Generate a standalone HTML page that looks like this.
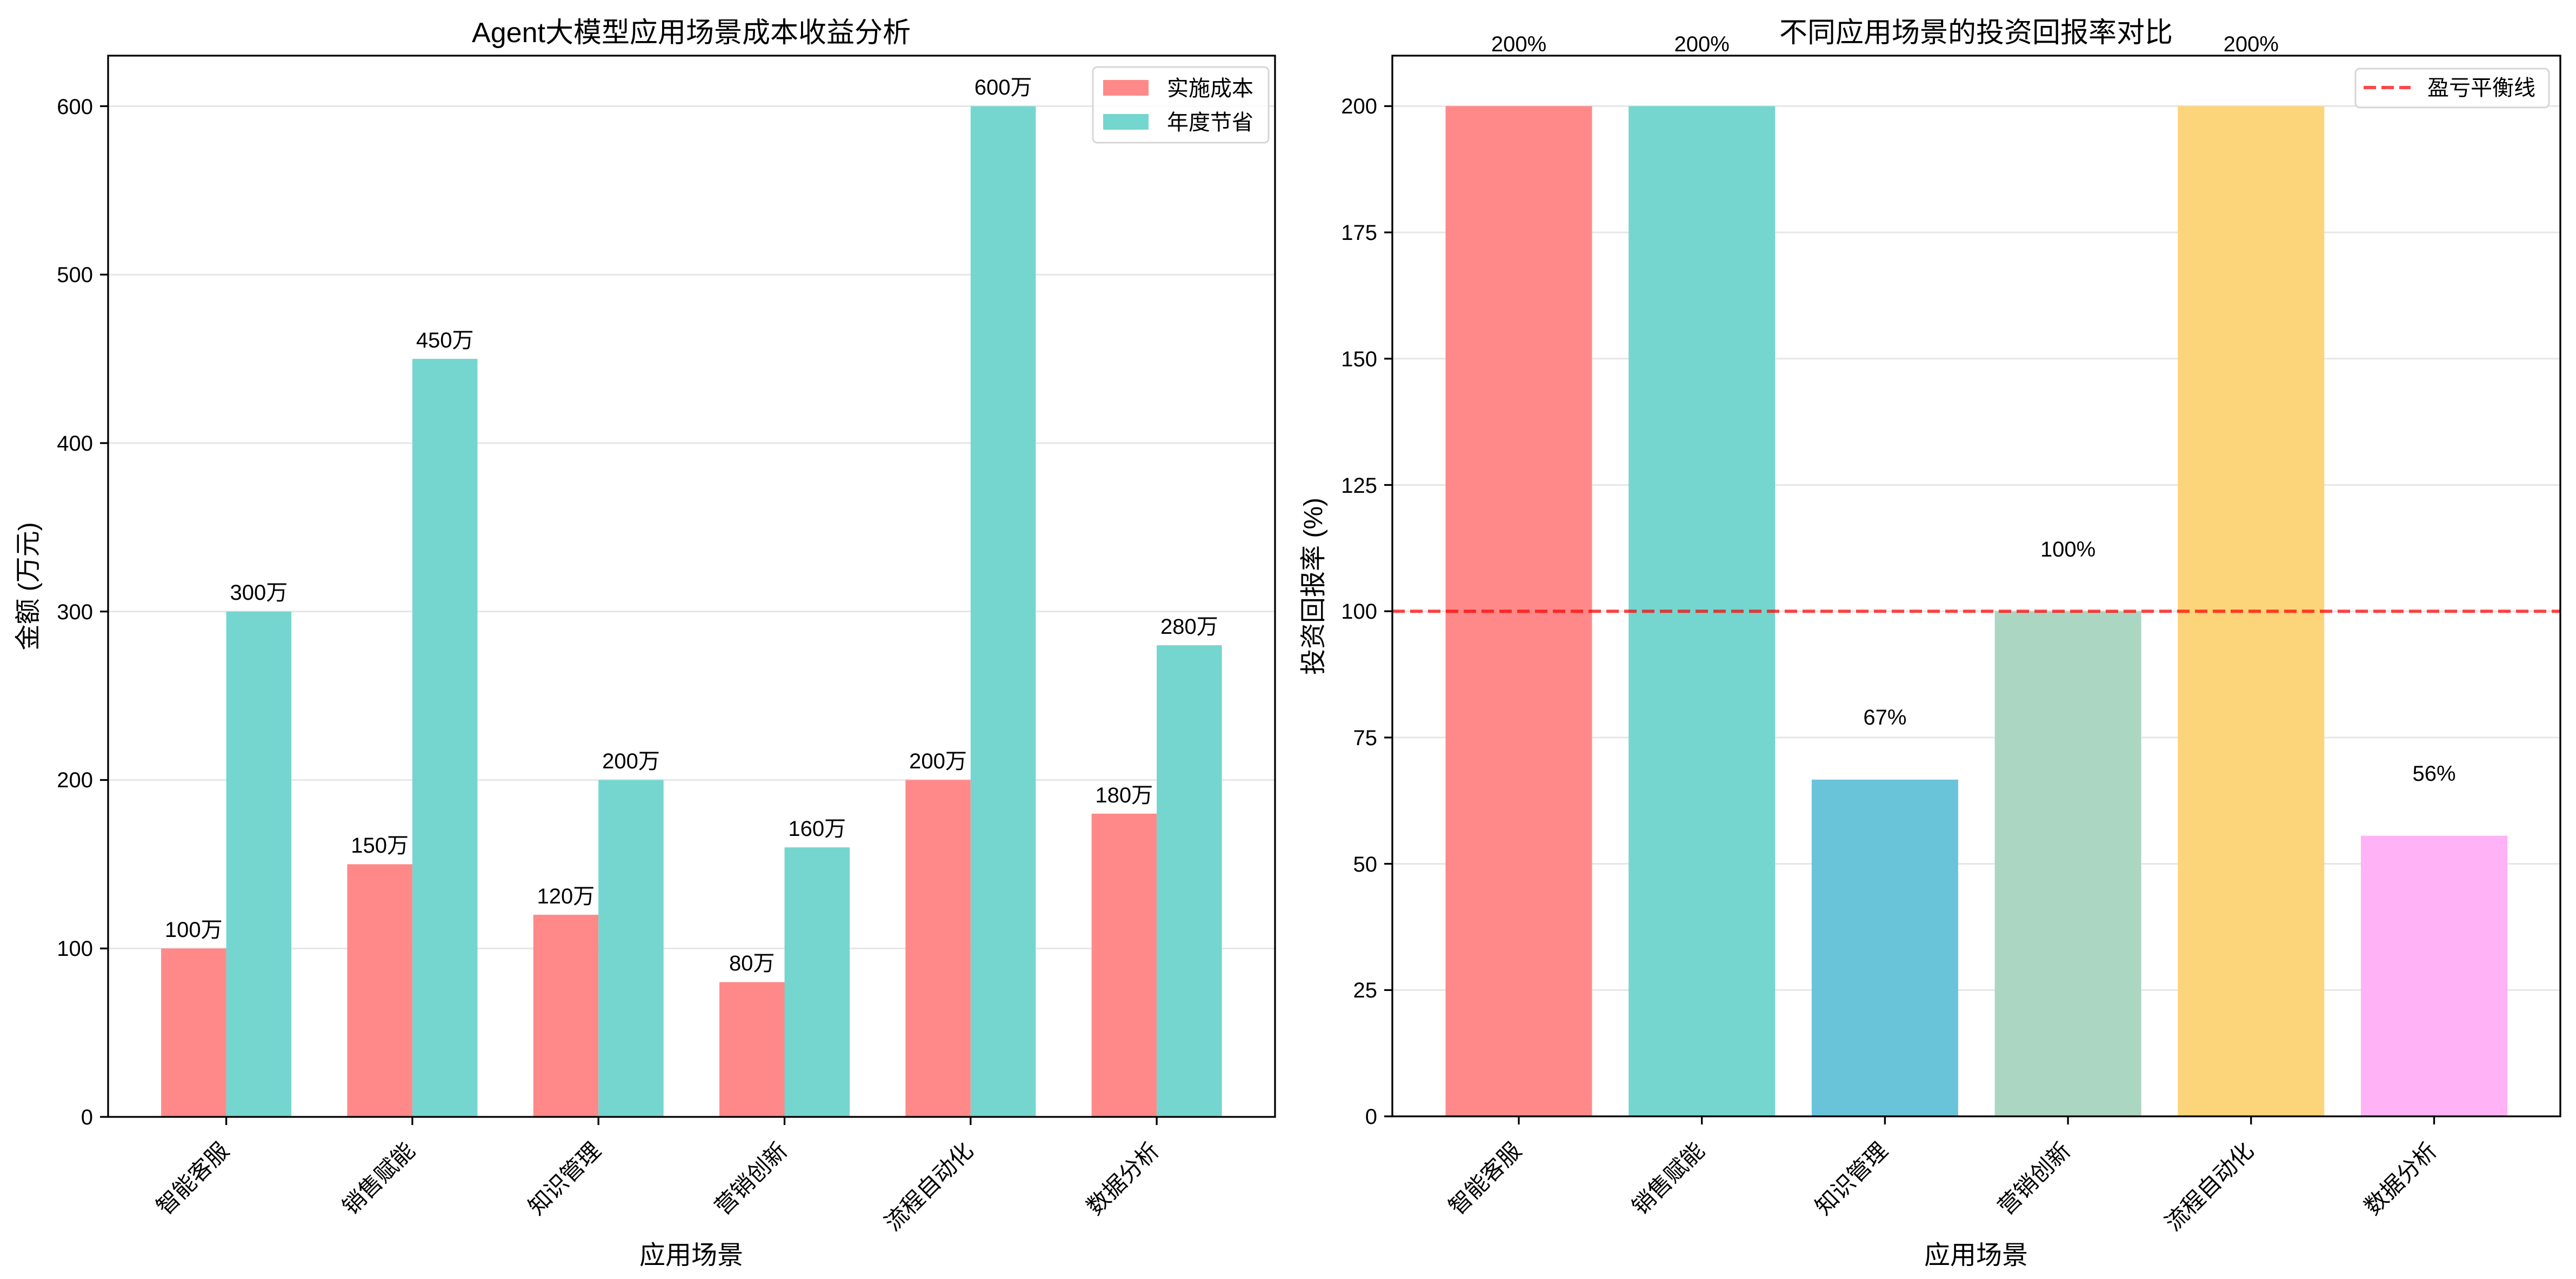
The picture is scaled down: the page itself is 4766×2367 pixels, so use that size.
<!DOCTYPE html>
<html><head><meta charset="utf-8"><style>
html,body{margin:0;padding:0;background:#fff;}
svg{display:block;}
text{font-family:"Liberation Sans","Noto Sans CJK SC",sans-serif;fill:#000;}
</style></head><body>
<svg width="4766" height="2367" viewBox="0 0 4766 2367" xmlns="http://www.w3.org/2000/svg">
<rect width="4766" height="2367" fill="#fff"/>
<!-- LEFT -->
<g stroke="#e6e6e6" stroke-width="3">
<line x1="200" x2="2359" y1="1755.3" y2="1755.3"/><line x1="200" x2="2359" y1="1443.5" y2="1443.5"/>
<line x1="200" x2="2359" y1="1131.7" y2="1131.7"/><line x1="200" x2="2359" y1="820" y2="820"/>
<line x1="200" x2="2359" y1="508.2" y2="508.2"/><line x1="200" x2="2359" y1="196.5" y2="196.5"/>
</g>
<g fill="#FF8989">
<rect x="298.1" y="1755.3" width="120.5" height="311.7"/>
<rect x="642.4" y="1599.4" width="120.5" height="467.6"/>
<rect x="986.7" y="1692.9" width="120.5" height="374.1"/>
<rect x="1331" y="1817.6" width="120.5" height="249.4"/>
<rect x="1675.3" y="1443.5" width="120.5" height="623.5"/>
<rect x="2019.6" y="1505.8" width="120.5" height="561.2"/>
</g>
<g fill="#74D6CF">
<rect x="418.6" y="1131.7" width="120.5" height="935.3"/>
<rect x="762.9" y="664.1" width="120.5" height="1402.9"/>
<rect x="1107.2" y="1443.5" width="120.5" height="623.5"/>
<rect x="1451.5" y="1568.2" width="120.5" height="498.8"/>
<rect x="1795.8" y="196.5" width="120.5" height="1870.5"/>
<rect x="2140.1" y="1194.1" width="120.5" height="872.9"/>
</g>
<g font-size="40" text-anchor="middle">
<text x="358.3" y="1734">100万</text><text x="702.6" y="1578">150万</text><text x="1046.9" y="1672">120万</text>
<text x="1391.2" y="1796">80万</text><text x="1735.5" y="1422">200万</text><text x="2079.8" y="1485">180万</text>
<text x="478.9" y="1110">300万</text><text x="823.2" y="643">450万</text><text x="1167.5" y="1422">200万</text>
<text x="1511.8" y="1547">160万</text><text x="1856.1" y="175">600万</text><text x="2200.4" y="1173">280万</text>
</g>
<rect x="200" y="103" width="2159" height="1964" fill="none" stroke="#000" stroke-width="3.3"/>
<g stroke="#000" stroke-width="3.3">
<line x1="185" x2="200" y1="2067" y2="2067"/><line x1="185" x2="200" y1="1755.3" y2="1755.3"/>
<line x1="185" x2="200" y1="1443.5" y2="1443.5"/><line x1="185" x2="200" y1="1131.7" y2="1131.7"/>
<line x1="185" x2="200" y1="820" y2="820"/><line x1="185" x2="200" y1="508.2" y2="508.2"/>
<line x1="185" x2="200" y1="196.5" y2="196.5"/>
<line x1="418.6" x2="418.6" y1="2067" y2="2082"/><line x1="762.9" x2="762.9" y1="2067" y2="2082"/>
<line x1="1107.2" x2="1107.2" y1="2067" y2="2082"/><line x1="1451.5" x2="1451.5" y1="2067" y2="2082"/>
<line x1="1795.8" x2="1795.8" y1="2067" y2="2082"/><line x1="2140.1" x2="2140.1" y1="2067" y2="2082"/>
</g>
<g font-size="40" text-anchor="end">
<text x="172" y="2081">0</text><text x="172" y="1769">100</text><text x="172" y="1457">200</text>
<text x="172" y="1146">300</text><text x="172" y="834">400</text><text x="172" y="522">500</text><text x="172" y="211">600</text>
</g>
<g font-size="42" text-anchor="end">
<text transform="translate(426,2132) rotate(-45)">智能客服</text>
<text transform="translate(770,2132) rotate(-45)">销售赋能</text>
<text transform="translate(1114,2132) rotate(-45)">知识管理</text>
<text transform="translate(1459,2132) rotate(-45)">营销创新</text>
<text transform="translate(1803,2132) rotate(-45)">流程自动化</text>
<text transform="translate(2147,2132) rotate(-45)">数据分析</text>
</g>
<text x="1279" y="2339" font-size="48" text-anchor="middle">应用场景</text>
<text transform="translate(68,1085) rotate(-90)" font-size="48" text-anchor="middle">金额 (万元)</text>
<text x="1279" y="78" font-size="52" text-anchor="middle">Agent大模型应用场景成本收益分析</text>
<rect x="2022" y="124" width="325" height="140" rx="8" fill="#fff" fill-opacity="0.8" stroke="#d6d6d6" stroke-width="3"/>
<rect x="2041" y="148" width="84" height="29" fill="#FF8989"/>
<rect x="2041" y="211" width="84" height="29" fill="#74D6CF"/>
<text x="2159" y="177" font-size="40">实施成本</text>
<text x="2159" y="240" font-size="40">年度节省</text>
<!-- RIGHT -->
<g stroke="#e6e6e6" stroke-width="3">
<line x1="2576" x2="4737" y1="1832.3" y2="1832.3"/><line x1="2576" x2="4737" y1="1598.6" y2="1598.6"/>
<line x1="2576" x2="4737" y1="1364.9" y2="1364.9"/><line x1="2576" x2="4737" y1="1131.2" y2="1131.2"/>
<line x1="2576" x2="4737" y1="897.5" y2="897.5"/><line x1="2576" x2="4737" y1="663.8" y2="663.8"/>
<line x1="2576" x2="4737" y1="430.1" y2="430.1"/><line x1="2576" x2="4737" y1="196.4" y2="196.4"/>
</g>
<rect x="2674.5" y="196.4" width="271" height="1869.6" fill="#FF8989"/>
<rect x="3013.2" y="196.4" width="271" height="1869.6" fill="#74D6CF"/>
<rect x="3351.9" y="1442.8" width="271" height="623.2" fill="#6AC4D9"/>
<rect x="3690.6" y="1131.2" width="271" height="934.8" fill="#ABD6C2"/>
<rect x="4029.3" y="196.4" width="271" height="1869.6" fill="#FCD47A"/>
<rect x="4368" y="1546.6" width="271" height="519.4" fill="#FFB2F5"/>
<g font-size="40" text-anchor="middle">
<text x="2810" y="95">200%</text><text x="3148.7" y="95">200%</text><text x="3487.4" y="1341">67%</text>
<text x="3826.1" y="1030">100%</text><text x="4164.8" y="95">200%</text><text x="4503.5" y="1445">56%</text>
</g>
<line x1="2576" x2="4737" y1="1131.2" y2="1131.2" stroke="#FF0000" stroke-opacity="0.72" stroke-width="6" stroke-dasharray="23 10"/>
<rect x="2576" y="103" width="2161" height="1963" fill="none" stroke="#000" stroke-width="3.3"/>
<g stroke="#000" stroke-width="3.3">
<line x1="2561" x2="2576" y1="2066" y2="2066"/><line x1="2561" x2="2576" y1="1832.3" y2="1832.3"/>
<line x1="2561" x2="2576" y1="1598.6" y2="1598.6"/><line x1="2561" x2="2576" y1="1364.9" y2="1364.9"/>
<line x1="2561" x2="2576" y1="1131.2" y2="1131.2"/><line x1="2561" x2="2576" y1="897.5" y2="897.5"/>
<line x1="2561" x2="2576" y1="663.8" y2="663.8"/><line x1="2561" x2="2576" y1="430.1" y2="430.1"/>
<line x1="2561" x2="2576" y1="196.4" y2="196.4"/>
<line x1="2810" x2="2810" y1="2066" y2="2081"/><line x1="3148.7" x2="3148.7" y1="2066" y2="2081"/>
<line x1="3487.4" x2="3487.4" y1="2066" y2="2081"/><line x1="3826.1" x2="3826.1" y1="2066" y2="2081"/>
<line x1="4164.8" x2="4164.8" y1="2066" y2="2081"/><line x1="4503.5" x2="4503.5" y1="2066" y2="2081"/>
</g>
<g font-size="40" text-anchor="end">
<text x="2548" y="2080">0</text><text x="2548" y="1846">25</text><text x="2548" y="1613">50</text>
<text x="2548" y="1379">75</text><text x="2548" y="1145">100</text><text x="2548" y="912">125</text>
<text x="2548" y="678">150</text><text x="2548" y="444">175</text><text x="2548" y="210">200</text>
</g>
<g font-size="42" text-anchor="end">
<text transform="translate(2817,2132) rotate(-45)">智能客服</text>
<text transform="translate(3156,2132) rotate(-45)">销售赋能</text>
<text transform="translate(3495,2132) rotate(-45)">知识管理</text>
<text transform="translate(3833,2132) rotate(-45)">营销创新</text>
<text transform="translate(4172,2132) rotate(-45)">流程自动化</text>
<text transform="translate(4511,2132) rotate(-45)">数据分析</text>
</g>
<text x="3656" y="2339" font-size="48" text-anchor="middle">应用场景</text>
<text transform="translate(2446,1085) rotate(-90)" font-size="48" text-anchor="middle">投资回报率 (%)</text>
<text x="3656" y="78" font-size="52" text-anchor="middle">不同应用场景的投资回报率对比</text>
<rect x="4358" y="127" width="358" height="72" rx="8" fill="#fff" fill-opacity="0.8" stroke="#d6d6d6" stroke-width="3"/>
<line x1="4373" x2="4460" y1="162" y2="162" stroke="#FF0000" stroke-opacity="0.72" stroke-width="6" stroke-dasharray="23 10"/>
<text x="4491" y="176" font-size="40">盈亏平衡线</text>
</svg>
</body></html>
